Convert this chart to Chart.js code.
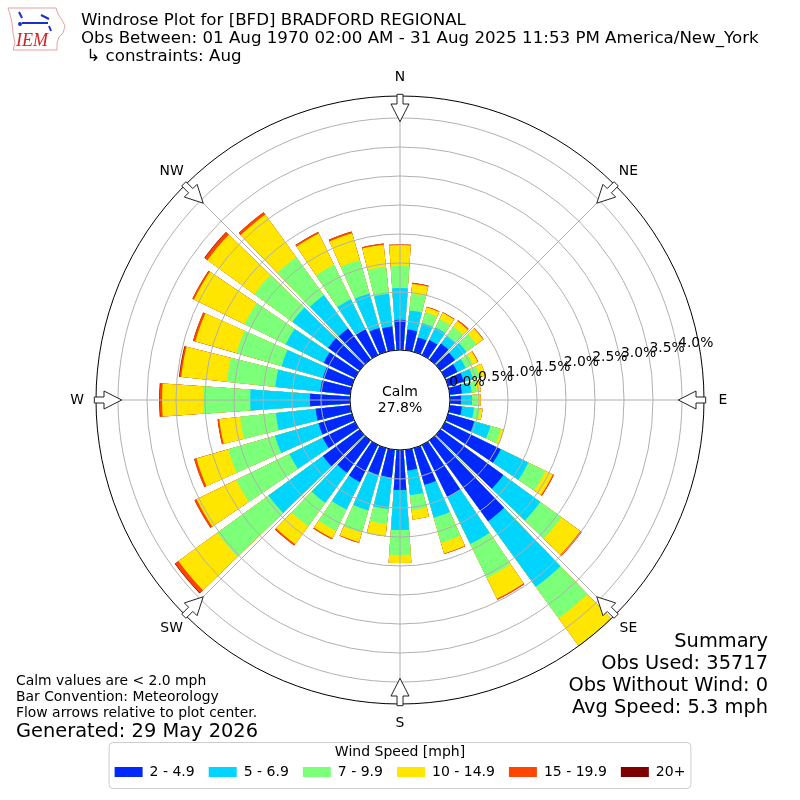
<!DOCTYPE html>
<html>
<head>
<meta charset="utf-8">
<title>Windrose Plot for [BFD] BRADFORD REGIONAL</title>
<script src="https://cdn.jsdelivr.net/npm/chart.js@4.4.1/dist/chart.umd.min.js"></script>
<style>
  html, body { margin: 0; padding: 0; background: #fff; }
  #wrap { width: 800px; height: 800px; }
</style>
</head>
<body>
<div id="wrap"><canvas id="chart" width="800" height="800"></canvas></div>
<script>
// Direction bins (bar centre, degrees from north, clockwise)
const directions = [0, 10, 20, 30, 40, 50, 60, 70, 80, 90, 100, 110, 120, 130, 140, 150, 160, 170,
                    180, 190, 200, 210, 220, 230, 240, 250, 260, 270, 280, 290, 300, 310, 320, 330, 340, 350];

// Speed bins and their colours
const speedBins = ['2 - 4.9', '5 - 6.9', '7 - 9.9', '10 - 14.9', '15 - 19.9', '20+'];
const binColors = ['#0028ff', '#00d4ff', '#7cff79', '#ffe600', '#ff4600', '#7f0000'];

// Percent of all observations, per direction, for each speed bin
const speed2to5   = [0.52, 0.36, 0.26, 0.29, 0.34, 0.31, 0.24, 0.28, 0.21, 0.19, 0.21, 0.47, 1.07, 1.34, 1.72, 1.00, 0.66, 0.36,
                     0.69, 0.48, 0.48, 0.71, 0.69, 0.78, 0.62, 0.60, 0.60, 0.69, 0.52, 0.52, 0.60, 0.67, 0.66, 0.50, 0.43, 0.41];
const speed5to7   = [0.55, 0.33, 0.26, 0.24, 0.17, 0.24, 0.16, 0.17, 0.17, 0.19, 0.21, 0.29, 0.53, 0.79, 1.40, 0.90, 0.59, 0.43,
                     0.69, 0.55, 0.64, 0.53, 0.64, 1.16, 0.64, 0.78, 0.69, 1.03, 0.78, 0.74, 0.73, 0.76, 0.71, 0.57, 0.62, 0.57];
const speed7to10  = [0.38, 0.29, 0.19, 0.16, 0.19, 0.22, 0.14, 0.12, 0.09, 0.10, 0.10, 0.19, 0.33, 0.45, 0.67, 0.65, 0.45, 0.26,
                     0.43, 0.26, 0.40, 0.41, 0.50, 1.09, 1.02, 0.84, 0.62, 0.81, 0.84, 0.81, 0.79, 0.81, 0.81, 0.66, 0.60, 0.47];
const speed10to15 = [0.36, 0.17, 0.09, 0.12, 0.12, 0.14, 0.09, 0.10, 0.07, 0.05, 0.05, 0.05, 0.14, 0.40, 0.62, 0.40, 0.19, 0.16,
                     0.14, 0.21, 0.17, 0.14, 0.38, 0.83, 0.76, 0.57, 0.36, 0.71, 0.79, 0.74, 0.97, 1.00, 0.91, 0.60, 0.48, 0.38];
const speed15to20 = [0.01, 0.02, 0.01, 0.01, 0.02, 0.01, 0.01, 0.00, 0.00, 0.00, 0.00, 0.00, 0.02, 0.03, 0.03, 0.02, 0.01, 0.00,
                     0.00, 0.00, 0.01, 0.02, 0.03, 0.07, 0.04, 0.04, 0.03, 0.04, 0.03, 0.04, 0.03, 0.06, 0.05, 0.03, 0.03, 0.02];
const speed20up   = [0.00, 0.00, 0.00, 0.00, 0.00, 0.00, 0.00, 0.00, 0.00, 0.00, 0.00, 0.00, 0.00, 0.00, 0.00, 0.00, 0.00, 0.00,
                     0.00, 0.00, 0.00, 0.00, 0.00, 0.01, 0.00, 0.00, 0.00, 0.01, 0.01, 0.00, 0.00, 0.01, 0.00, 0.00, 0.00, 0.00];

// Radial ticks (percent) and compass labels
const tickValues = [0, 0.5, 1.0, 1.5, 2.0, 2.5, 3.0, 3.5, 4.0];
const compassLabels = ['N', 'NE', 'E', 'SE', 'S', 'SW', 'W', 'NW'];
const calmPercent = 27.8;

const titleLines = [
  'Windrose Plot for [BFD] BRADFORD REGIONAL',
  'Obs Between: 01 Aug 1970 02:00 AM - 31 Aug 2025 11:53 PM America/New_York',
  ' \u21b3 constraints: Aug'
];
const noteLines = ['Calm values are < 2.0 mph', 'Bar Convention: Meteorology', 'Flow arrows relative to plot center.'];
const generatedText = 'Generated: 29 May 2026';
const summaryLines = ['Summary', 'Obs Used: 35717', 'Obs Without Wind: 0', 'Avg Speed: 5.3 mph'];

const FONT = '"DejaVu Sans", "Liberation Sans", sans-serif';

// Bars cover 8 of every 10 degrees, the rest is a spacer slice
const barAngle = 8;
const gapAngle = 2;

// Radial axis: the calm circle sits below 0 %
const rMin = -0.862;
const rMax = 4.379;

const binValues = [speed2to5, speed5to7, speed7to10, speed10to15, speed15to20, speed20up];

const labels = [];
directions.forEach(d => { labels.push(d + '\u00b0'); labels.push(''); });

// Stacking: each dataset holds the cumulative total, drawn under the smaller ones
const datasets = speedBins.map((name, k) => {
  const data = [];
  directions.forEach((d, i) => {
    let total = 0;
    for (let j = 0; j <= k; j++) total += binValues[j][i];
    data.push(+total.toFixed(3));
    data.push(0); // spacer, hidden by the calm circle
  });
  return {
    label: name,
    data: data,
    backgroundColor: binColors[k],
    borderWidth: 0,
    angle: ctx => (ctx.dataIndex % 2 === 0 ? barAngle : gapAngle)
  };
});

function drawArrow(ctx, cx, cy, theta, R) {
  const s = Math.sin(theta), c = Math.cos(theta);
  const pts = [[R + 1.7, 3], [R - 8, 3], [R - 8, 9], [R - 25.7, 0], [R - 8, -9], [R - 8, -3], [R + 1.7, -3]];
  ctx.beginPath();
  pts.forEach(([u, v], i) => {
    const x = cx + u * s + v * c;
    const y = cy - u * c + v * s;
    if (i === 0) ctx.moveTo(x, y); else ctx.lineTo(x, y);
  });
  ctx.closePath();
  ctx.fillStyle = '#fff';
  ctx.fill();
  ctx.strokeStyle = '#222';
  ctx.lineWidth = 1;
  ctx.stroke();
}

function drawLogo(ctx) {
  ctx.save();
  ctx.beginPath();
  const outline = [[8, 8], [56, 8], [58, 14], [62, 20], [65, 26], [63, 33], [59, 37], [57, 43], [57, 50],
                   [13, 50], [15, 43], [13, 33], [12, 23], [10, 14]];
  outline.forEach(([x, y], i) => (i === 0 ? ctx.moveTo(x, y) : ctx.lineTo(x, y)));
  ctx.closePath();
  ctx.strokeStyle = '#e8a0a0';
  ctx.lineWidth = 1;
  ctx.stroke();
  ctx.strokeStyle = '#1a2fd0';
  ctx.fillStyle = '#1a2fd0';
  ctx.lineWidth = 2;
  ctx.beginPath();
  ctx.moveTo(22, 23); ctx.lineTo(48, 23);
  ctx.moveTo(19, 12); ctx.lineTo(22, 18);
  ctx.moveTo(41, 15); ctx.lineTo(49, 19);
  ctx.moveTo(49, 26); ctx.lineTo(51, 31);
  ctx.stroke();
  ctx.beginPath(); ctx.arc(20, 24, 2, 0, Math.PI * 2); ctx.fill();
  ctx.fillStyle = '#d42020';
  ctx.font = 'italic 18px "Liberation Serif", "DejaVu Serif", serif';
  ctx.textAlign = 'left';
  ctx.textBaseline = 'alphabetic';
  ctx.fillText('IEM', 16, 46);
  ctx.restore();
}

const windroseDecor = {
  id: 'windroseDecor',
  beforeDatasetsDraw(chart) {
    const r = chart.scales.r;
    const ctx = chart.ctx;
    ctx.save();
    ctx.beginPath();
    ctx.arc(r.xCenter, r.yCenter, r.drawingArea, 0, Math.PI * 2);
    ctx.clip();
  },
  afterDatasetsDraw(chart) {
    const r = chart.scales.r;
    const ctx = chart.ctx;
    ctx.restore();
    // angle grid lines every 45 degrees
    ctx.save();
    ctx.strokeStyle = '#b0b0b0';
    ctx.lineWidth = 1;
    for (let i = 0; i < 8; i++) {
      const t = i * Math.PI / 4;
      ctx.beginPath();
      ctx.moveTo(r.xCenter, r.yCenter);
      ctx.lineTo(r.xCenter + r.drawingArea * Math.sin(t), r.yCenter - r.drawingArea * Math.cos(t));
      ctx.stroke();
    }
    ctx.restore();
  },
  afterDraw(chart) {
    const r = chart.scales.r;
    const ctx = chart.ctx;
    const cx = r.xCenter, cy = r.yCenter, R = r.drawingArea;
    ctx.save();

    // outer frame
    ctx.strokeStyle = '#000';
    ctx.lineWidth = 1;
    ctx.beginPath();
    ctx.arc(cx, cy, R, 0, Math.PI * 2);
    ctx.stroke();

    // calm circle
    const calmR = r.getDistanceFromCenterForValue(0);
    ctx.beginPath();
    ctx.arc(cx, cy, calmR, 0, Math.PI * 2);
    ctx.fillStyle = '#fff';
    ctx.fill();
    ctx.stroke();
    ctx.fillStyle = '#000';
    ctx.font = '14px ' + FONT;
    ctx.textAlign = 'center';
    ctx.textBaseline = 'middle';
    ctx.fillText('Calm', cx, cy - 8);
    ctx.fillText(calmPercent.toFixed(1) + '%', cx, cy + 8);

    // radial tick labels
    const a = 9.6 * Math.PI / 180;
    ctx.font = '13.9px ' + FONT;
    ctx.textAlign = 'left';
    tickValues.forEach(v => {
      const d = r.getDistanceFromCenterForValue(v);
      ctx.fillText(v.toFixed(1) + '%', cx + d * Math.cos(a), cy - d * Math.sin(a) - 9.6);
    });

    // flow arrows and compass labels
    ctx.textAlign = 'center';
    compassLabels.forEach((lab, i) => {
      const t = i * Math.PI / 4;
      drawArrow(ctx, cx, cy, t, R);
      ctx.fillStyle = '#000';
      ctx.fillText(lab, cx + (R + 19) * Math.sin(t), cy - (R + 19) * Math.cos(t));
    });

    // header
    ctx.textBaseline = 'alphabetic';
    ctx.textAlign = 'left';
    ctx.font = '16.67px ' + FONT;
    titleLines.forEach((line, i) => ctx.fillText(line, 81, 25 + i * 17.8));

    // notes, bottom left
    ctx.font = '13.9px ' + FONT;
    noteLines.forEach((line, i) => ctx.fillText(line, 16, 685 + i * 16));
    ctx.font = '19.4px ' + FONT;
    ctx.fillText(generatedText, 16, 737);

    // summary, bottom right
    ctx.textAlign = 'right';
    summaryLines.forEach((line, i) => ctx.fillText(line, 768, 647 + i * 22));

    // legend frame
    const lg = chart.legend;
    if (lg && lg.legendHitBoxes && lg.legendHitBoxes.length) {
      const boxes = lg.legendHitBoxes;
      const x0 = boxes[0].left - 6;
      const x1 = boxes[boxes.length - 1].left + boxes[boxes.length - 1].width + 5;
      const y0 = lg.top + 38;
      const y1 = lg.bottom - 1;
      ctx.beginPath();
      ctx.roundRect(x0 + 0.5, y0 + 0.5, x1 - x0, y1 - y0, 4);
      ctx.strokeStyle = '#cccccc';
      ctx.lineWidth = 1;
      ctx.stroke();
    }

    drawLogo(ctx);
    ctx.restore();
  }
};

const chart = new Chart(document.getElementById('chart').getContext('2d'), {
  type: 'polarArea',
  data: { labels: labels, datasets: datasets },
  options: {
    responsive: false,
    animation: false,
    events: [],
    layout: { padding: { top: 96, left: 96, right: 96, bottom: 11 } },
    scales: {
      r: {
        min: rMin,
        max: rMax,
        startAngle: -barAngle / 2,
        ticks: { display: false },
        afterBuildTicks: scale => { scale.ticks = tickValues.map(v => ({ value: v })); },
        grid: { color: '#b0b0b0', lineWidth: 1, circular: true, z: 1 },
        angleLines: { display: false },
        pointLabels: { display: false }
      }
    },
    plugins: {
      title: { display: false },
      tooltip: { enabled: false },
      legend: {
        display: true,
        position: 'bottom',
        align: 'center',
        title: {
          display: true,
          text: 'Wind Speed [mph]',
          color: '#000',
          font: { family: FONT, size: 14, lineHeight: 1 },
          padding: { top: 41, bottom: -8 }
        },
        labels: {
          color: '#000',
          font: { family: FONT, size: 14 },
          boxWidth: 28,
          boxHeight: 10,
          padding: 14,
          generateLabels: c => c.data.datasets.map((ds, i) => ({
            text: ds.label,
            fillStyle: ds.backgroundColor,
            strokeStyle: ds.backgroundColor,
            lineWidth: 0,
            hidden: false,
            datasetIndex: i
          }))
        }
      }
    }
  },
  plugins: [windroseDecor]
});
</script>
</body>
</html>
